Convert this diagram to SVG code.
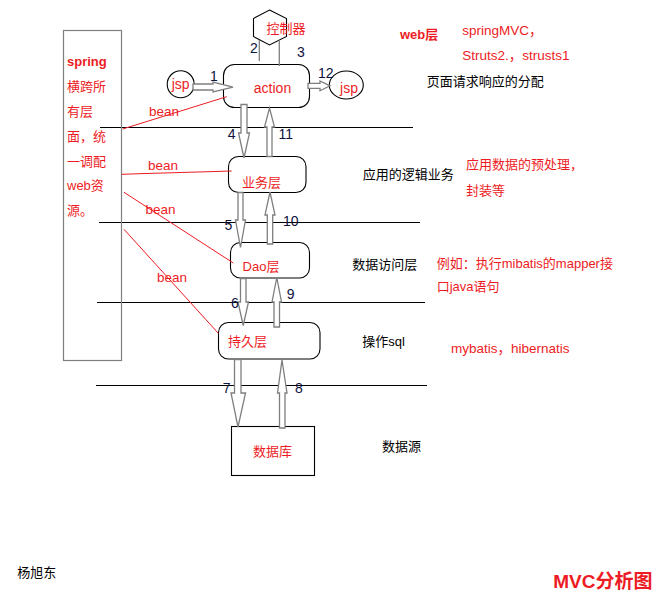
<svg xmlns="http://www.w3.org/2000/svg" width="672" height="602" viewBox="0 0 672 602">
<style>
text{font-family:"Liberation Sans","Noto Sans CJK SC",sans-serif;font-size:13px}
.r{fill:#ed1c24}
.k{fill:#000}
.n{fill:#0d1240;font-size:14px}
.b{font-weight:bold}
.node{fill:#fff;stroke:#000;stroke-width:1.1}
.sep{stroke:#000;stroke-width:1}
.arr{fill:#fff;stroke:#7f7f7f;stroke-width:1.3;stroke-linejoin:miter}
.bean{stroke:#ed1c24;stroke-width:1;fill:none}
.gl{stroke:#7f7f7f;stroke-width:1.3}
</style>
<rect width="672" height="602" fill="#fff"/>

<g id="separators">
<line class="sep" x1="100" y1="127.5" x2="413" y2="127.5"/>
<line class="sep" x1="99" y1="222.5" x2="420" y2="222.5"/>
<line class="sep" x1="97" y1="302.5" x2="425" y2="302.5"/>
<line class="sep" x1="96" y1="385.5" x2="427" y2="385.5"/>
</g>

<g id="spring">
<rect x="63.5" y="30.5" width="58" height="330" fill="none" stroke="#7f7f7f" stroke-width="1.2"/>
<text class="r b" x="67" y="66">spring</text>
<text class="r" x="67" y="91">横跨所</text>
<text class="r" x="67" y="115.5">有层</text>
<text class="r" x="67" y="141">面，统</text>
<text class="r" x="67" y="166">一调配</text>
<text class="r" x="67" y="190">web资</text>
<text class="r" x="67" y="214.5">源。</text>
</g>

<g id="controller">
<polygon class="node" points="269.5,10 286.5,18.5 286.5,36.5 269.5,45 253.5,36.5 253.5,18.5"/>
<text class="r" x="266.5" y="33">控制器</text>
</g>

<g id="jsp-in">
<circle class="node" cx="180.7" cy="84.3" r="13.5"/>
<text class="r" x="180.7" y="89" text-anchor="middle" style="font-size:14px">jsp</text>
</g>

<g id="action">
<rect class="node" x="223.5" y="64.5" width="86" height="43" rx="11"/>
<text class="r" x="272.5" y="93" text-anchor="middle" style="font-size:14px">action</text>
</g>

<g id="jsp-out">
<ellipse class="node" cx="346.3" cy="85" rx="17" ry="14"/>
<text class="r" x="349" y="93" text-anchor="middle" style="font-size:14px">jsp</text>
</g>

<g id="service">
<rect class="node" x="228.5" y="156.5" width="77.5" height="36" rx="10"/>
<text class="r" x="261.5" y="187" text-anchor="middle">业务层</text>
</g>

<g id="dao">
<rect class="node" x="230.5" y="242.5" width="79" height="35.5" rx="10"/>
<text class="r" x="261" y="271" text-anchor="middle">Dao层</text>
</g>

<g id="persist">
<rect class="node" x="218.5" y="322.5" width="101.5" height="36.5" rx="10"/>
<text class="r" x="247.5" y="345.5" text-anchor="middle">持久层</text>
</g>

<g id="database">
<rect class="node" x="231.5" y="426.5" width="83" height="49"/>
<text class="r" x="272.5" y="456" text-anchor="middle">数据库</text>
</g>

<g id="connectors">
<line class="gl" x1="259.3" y1="40" x2="259.3" y2="61"/>
<line class="gl" x1="279.3" y1="40" x2="279.3" y2="66"/>
<polygon class="arr" points="193,84 213,84 213,82 233,87.2 213,92 213,90 193,90"/>
<polygon class="arr" points="308,83.3 320,83.3 320,81 330,85.8 320,90.8 320,88.3 308,88.3"/>
<polygon class="arr" points="241,104.5 247,104.5 247,133 249.5,133 244,158 238.5,133 241,133"/>
<polygon class="arr" points="267,156.5 272,156.5 272,127 274.5,127 269.5,108 264.5,127 267,127"/>
<polygon class="arr" points="238,192.5 243,192.5 243,220 245.5,220 240.5,247.5 235.5,220 238,220"/>
<polygon class="arr" points="267.3,244 272.7,244 272.7,215 275,215 270,192 265,215 267.3,215"/>
<polygon class="arr" points="240.5,278.5 246,278.5 246,302 248.5,302 243.2,325.5 238,302 240.5,302"/>
<polygon class="arr" points="274,327 279.5,327 279.5,302 281.5,302 276.8,277.5 272,302 274,302"/>
<polygon class="arr" points="234.5,359.5 241,359.5 241,393 245.5,393 238,427 231,393 234.5,393"/>
<polygon class="arr" points="279.5,428 285,428 285,393 287,393 282,360 277.5,393 279.5,393"/>
<polyline class="bean" points="122.7,129 226.7,96.7"/>
<polyline class="bean" points="121.7,174.3 140,173.7 231.7,171"/>
<polyline class="bean" points="124,192.3 233.3,263"/>
<polyline class="bean" points="124,229.3 218.3,333.3"/>
<text class="r" x="149" y="115.5" style="font-size:13.5px">bean</text>
<text class="r" x="148" y="170" style="font-size:13.5px">bean</text>
<text class="r" x="145.5" y="214" style="font-size:13.5px">bean</text>
<text class="r" x="157" y="282" style="font-size:13.5px">bean</text>
<text class="n" x="214" y="81" text-anchor="middle">1</text>
<text class="n" x="254" y="53" text-anchor="middle">2</text>
<text class="n" x="301" y="57" text-anchor="middle">3</text>
<text class="n" x="231.7" y="139" text-anchor="middle">4</text>
<text class="n" x="228.3" y="230" text-anchor="middle">5</text>
<text class="n" x="235" y="307.5" text-anchor="middle">6</text>
<text class="n" x="226.7" y="392.5" text-anchor="middle">7</text>
<text class="n" x="299" y="392.5" text-anchor="middle">8</text>
<text class="n" x="290.7" y="299" text-anchor="middle">9</text>
<text class="n" x="290.7" y="226" text-anchor="middle">10</text>
<text class="n" x="285.7" y="139" text-anchor="middle">11</text>
<text class="n" x="325.7" y="77.5" text-anchor="middle">12</text>
</g>

<g id="annotations">
<text class="r b" x="400" y="38.5">web层</text>
<text class="r" x="462.3" y="35" style="font-size:13.5px">springMVC，</text>
<text class="r" x="462.3" y="59.5" style="font-size:13.5px">Struts2.，strusts1</text>
<text class="k" x="426.7" y="85.5">页面请求响应的分配</text>
<text class="k" x="362.7" y="178.8">应用的逻辑业务</text>
<text class="r" x="466" y="168.8">应用数据的预处理，</text>
<text class="r" x="466" y="194.5">封装等</text>
<text class="k" x="352.3" y="268.8">数据访问层</text>
<text class="r" x="436.7" y="267.8">例如：执行mibatis的mapper接</text>
<text class="r" x="436.7" y="291.2">口java语句</text>
<text class="k" x="362.3" y="345.5">操作sql</text>
<text class="r" x="451" y="352.8" style="font-size:13.5px">mybatis，hibernatis</text>
<text class="k" x="382" y="451.2">数据源</text>
<text class="k" x="17.3" y="577">杨旭东</text>
<text class="r b" x="553.3" y="587.5" style="font-size:19px">MVC分析图</text>
</g>
</svg>
